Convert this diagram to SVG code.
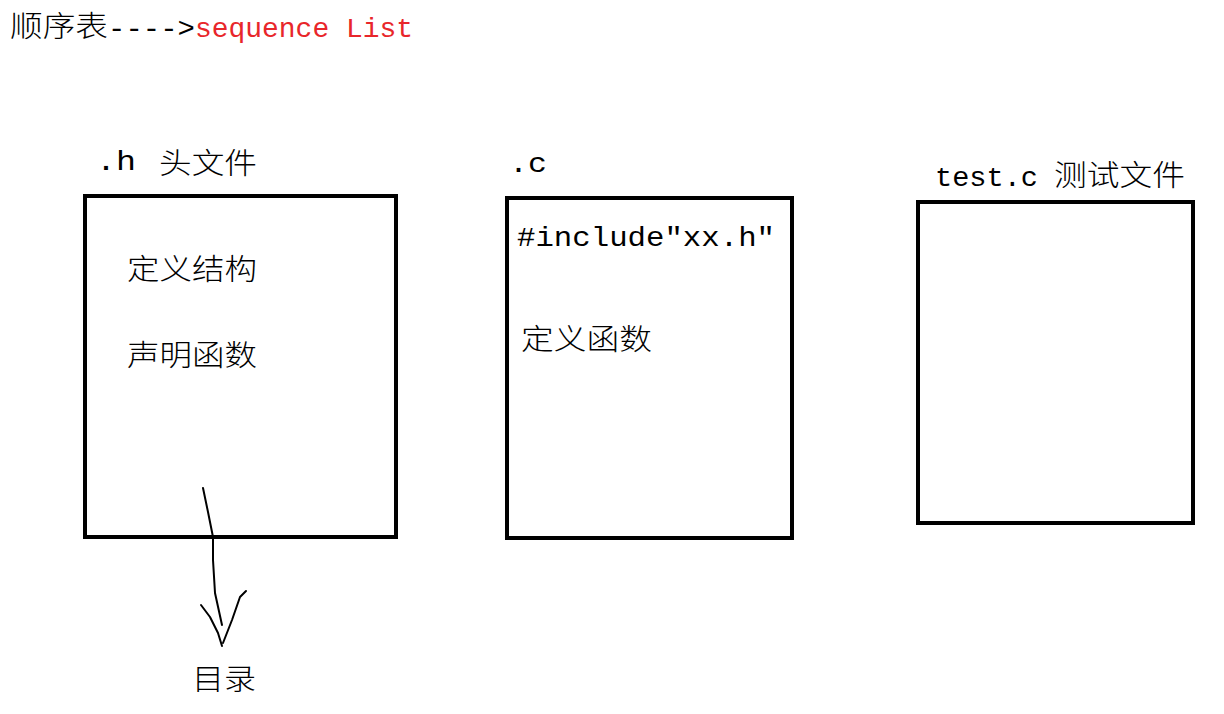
<svg xmlns="http://www.w3.org/2000/svg" width="1224" height="714" viewBox="0 0 1224 714">
<style>
.cjk{font-family:"Noto Sans CJK SC",sans-serif;font-size:29px;font-weight:300;fill:#000}
.lat{font-family:"Liberation Mono","Noto Sans CJK SC",monospace;font-size:28px;fill:#000}
.red{fill:#e8262a}
.box{fill:none;stroke:#000;stroke-width:4}
.hand{fill:none;stroke:#000;stroke-width:2;stroke-linecap:round;stroke-linejoin:round}
</style>
<rect width="1224" height="714" fill="#fff"/>
<g id="title">
<text class="cjk" x="10" y="37" textLength="98" lengthAdjust="spacingAndGlyphs">顺序表</text>
<text class="lat" x="108" y="37" textLength="87" lengthAdjust="spacingAndGlyphs">----&gt;</text>
<text class="lat red" x="195" y="37" textLength="218" lengthAdjust="spacingAndGlyphs">sequence List</text>
</g>
<g id="header-file">
<text class="lat" x="96" y="170" textLength="40" lengthAdjust="spacingAndGlyphs">.h</text>
<text class="cjk" x="159" y="174" textLength="98" lengthAdjust="spacingAndGlyphs">头文件</text>
<rect class="box" x="85" y="196" width="311" height="341"/>
<text class="cjk" x="127" y="280" textLength="130" lengthAdjust="spacingAndGlyphs">定义结构</text>
<text class="cjk" x="127" y="366" textLength="130" lengthAdjust="spacingAndGlyphs">声明函数</text>
</g>
<g id="source-file">
<text class="lat" x="509" y="172" textLength="38" lengthAdjust="spacingAndGlyphs">.c</text>
<rect class="box" x="507" y="198" width="285" height="340"/>
<text class="lat" x="517" y="246" textLength="258" lengthAdjust="spacingAndGlyphs">#include″xx.h″</text>
<text class="cjk" x="521" y="350" textLength="131" lengthAdjust="spacingAndGlyphs">定义函数</text>
</g>
<g id="test-file">
<text class="lat" x="935" y="186" textLength="103" lengthAdjust="spacingAndGlyphs">test.c</text>
<text class="cjk" x="1054" y="186" textLength="131" lengthAdjust="spacingAndGlyphs">测试文件</text>
<rect class="box" x="918" y="202" width="275" height="321"/>
</g>
<g id="connectors">
<path class="hand" d="M203,488 L208,512 L213,537 L213,560 L215,593 L222,625"/>
<path class="hand" d="M201,605 L210,617 L218,633 L222,646"/>
<path class="hand" d="M246,591 L240,597 L232,620 L223,643"/>
</g>
<g id="toc">
<text class="cjk" x="192" y="690" textLength="64" lengthAdjust="spacingAndGlyphs">目录</text>
</g>
</svg>
